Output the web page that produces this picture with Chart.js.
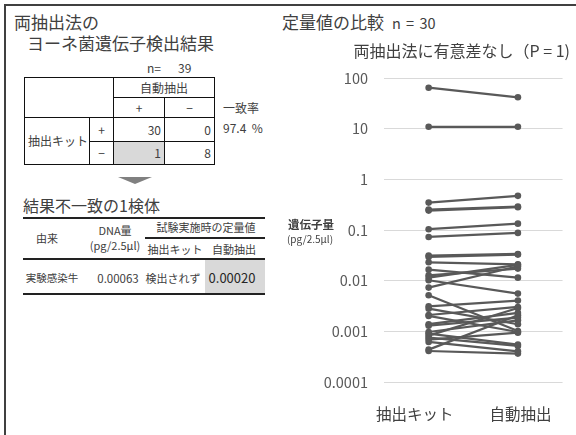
<!DOCTYPE html>
<html lang="ja">
<head>
<meta charset="utf-8">
<title>ヨーネ菌遺伝子検出結果と定量値の比較</title>
<script src="https://cdn.jsdelivr.net/npm/chart.js@4/dist/chart.umd.min.js"></script>
<style>
  html, body { margin: 0; padding: 0; background: #fff; }
  body {
    width: 576px; height: 435px; position: relative; overflow: hidden;
    font-family: "Noto Sans CJK JP", "Noto Sans", sans-serif; color: #404040;
  }
  .t { position: absolute; white-space: nowrap; }
  .ctr { text-align: center; }
  .rule { position: absolute; background: #222; }
  #frameTop { position: absolute; left: 4px; top: 4px; width: 572px; height: 2px; background: #404040; }
  #frameLeft { position: absolute; left: 4px; top: 4px; width: 2px; height: 431px; background: #404040; }
  #t1 {
    position: absolute; left: 24px; top: 77px; width: 190px;
    border-collapse: collapse; table-layout: fixed;
  }
  #t1 td {
    border: 1px solid #111; padding: 0 3px; font-size: 12px; line-height: 14px;
    color: #404040; box-sizing: border-box; white-space: nowrap;
  }
  #t1 td.c { text-align: center; }
  #t1 td.r { text-align: right; }
  #t1 td.hl { background: #d9d9d9; }
  #arrow {
    position: absolute; left: 118px; top: 177px; width: 0; height: 0;
    border-left: 17px solid transparent; border-right: 17px solid transparent;
    border-top: 7px solid #808080;
  }
  #chartBox { position: absolute; left: 280px; top: 0; width: 296px; height: 435px; }
</style>
</head>
<body>
<div id="frameTop"></div>
<div id="frameLeft"></div>

<!-- 検出結果（2×2表） -->
<div class="t" style="left:14px; top:11px; font-size:17px; line-height:22px;">両抽出法の</div>
<div class="t" style="left:27px; top:32px; font-size:17px; line-height:22px;">ヨーネ菌遺伝子検出結果</div>
<div class="t" style="left:147px; top:61px; font-size:12px; line-height:14px;">n=</div>
<div class="t" style="left:178px; top:61px; font-size:12px; line-height:14px;">39</div>

<table id="t1">
  <colgroup><col style="width:65px"><col style="width:24px"><col style="width:51px"><col style="width:50px"></colgroup>
  <tr style="height:20px"><td rowspan="2" colspan="2"></td><td colspan="2" class="c">自動抽出</td></tr>
  <tr style="height:20px"><td class="c">+</td><td class="c">−</td></tr>
  <tr style="height:24px"><td rowspan="2" class="c">抽出キット</td><td class="c">+</td><td class="r">30</td><td class="r">0</td></tr>
  <tr style="height:23px"><td class="c">−</td><td class="r hl">1</td><td class="r">8</td></tr>
</table>
<div class="t" style="left:223px; top:101px; font-size:12px; line-height:14px;">一致率</div>
<div class="t" style="left:223px; top:121px; font-size:12px; line-height:14px;">97.4&nbsp; %</div>

<div id="arrow"></div>

<!-- 結果不一致の検体 -->
<div class="t" style="left:23px; top:195px; font-size:16px; line-height:20px;">結果不一致の1検体</div>
<div class="rule" style="left:23px; top:217px; width:242px; height:2px;"></div>
<div class="rule" style="left:145px; top:237px; width:120px; height:2px;"></div>
<div class="rule" style="left:23px; top:258px; width:242px; height:2px;"></div>
<div style="position:absolute; left:205px; top:260px; width:60px; height:33px; background:#d9d9d9;"></div>
<div class="rule" style="left:23px; top:293px; width:242px; height:2px;"></div>

<div class="t ctr" style="left:7px; width:80px; top:231px; font-size:11px; line-height:14px;">由来</div>
<div class="t ctr" style="left:75px; width:80px; top:223px; font-size:11px; line-height:14px;">DNA量</div>
<div class="t ctr" style="left:75px; width:80px; top:238px; font-size:11px; line-height:14px;">(pg/2.5μl)</div>
<div class="t ctr" style="left:146px; width:120px; top:220px; font-size:11px; line-height:14px;">試験実施時の定量値</div>
<div class="t ctr" style="left:135px; width:80px; top:242px; font-size:11px; line-height:14px;">抽出キット</div>
<div class="t ctr" style="left:194px; width:80px; top:242px; font-size:11px; line-height:14px;">自動抽出</div>
<div class="t ctr" style="left:12px; width:80px; top:271px; font-size:10.5px; line-height:14px;">実験感染牛</div>
<div class="t ctr" style="left:78px; width:80px; top:271px; font-size:11.5px; line-height:14px;">0.00063</div>
<div class="t ctr" style="left:133px; width:80px; top:271px; font-size:11px; line-height:14px;">検出されず</div>
<div class="t ctr" style="left:192px; width:80px; top:270px; font-size:13px; line-height:16px; color:#262626;">0.00020</div>

<!-- 定量値の比較 -->
<div class="t" style="left:282px; top:11px; font-size:17px; line-height:22px;">定量値の比較</div>
<div class="t" style="left:392px; top:14px; font-size:14.5px; line-height:18px; word-spacing:2px;">n = 30</div>

<div id="chartBox"><canvas id="pairChart" width="296" height="435"></canvas></div>

<script>
// 抽出法ごとの定量値 (pg/2.5μl)、同一検体を同じ位置に並べる
const categories = ['抽出キット', '自動抽出'];
const kitValues = [
  65, 11, 0.351, 0.256, 0.244, 0.105, 0.0738, 0.0316, 0.0298, 0.0233,
  0.0167, 0.0129, 0.0116, 0.0103, 0.00738, 0.00521, 0.00316, 0.00284, 0.00213, 0.00204,
  0.00140, 0.00131, 0.000984, 0.000914, 0.000834, 0.000762, 0.000696, 0.000625, 0.000441, 0.000415
];
const autoValues = [
  42, 11, 0.477, 0.293, 0.284, 0.135, 0.0886, 0.0341, 0.0331, 0.0213,
  0.0116, 0.0175, 0.0207, 0.00562, 0.0195, 0.00103, 0.00409, 0.00140, 0.00307, 0.000984,
  0.00234, 0.00189, 0.00167, 0.000554, 0.00293, 0.000521, 0.000955, 0.000409, 0.00210, 0.000368
];
const yTickValues = [0.0001, 0.001, 0.01, 0.1, 1, 10, 100];
const yTickLabels = ['0.0001', '0.001', '0.01', '0.1', '1', '10', '100'];

const FONT = '"Noto Sans CJK JP", "Noto Sans", sans-serif';
const INK = '#595959';

const datasets = kitValues.map((v, i) => ({
  data: [{ x: 1, y: v }, { x: 2, y: autoValues[i] }],
  borderColor: INK,
  borderWidth: 2.2,
  pointRadius: 3.3,
  pointBackgroundColor: INK,
  pointBorderWidth: 0,
  pointHoverRadius: 3.3,
  clip: false
}));

// 縦軸タイトル（0.1 の目盛りの左に横書き）
const axisTitle = {
  id: 'axisTitle',
  afterDraw(chart) {
    const { ctx, scales } = chart;
    const y = scales.y.getPixelForValue(0.1);
    ctx.save();
    ctx.fillStyle = '#404040';
    ctx.textAlign = 'center';
    ctx.textBaseline = 'middle';
    ctx.font = 'bold 11.5px ' + FONT;
    ctx.fillText('遺伝子量', 31, y - 6);
    ctx.font = '10px ' + FONT;
    ctx.fillText('(pg/2.5μl)', 30, y + 9);
    ctx.restore();
  }
};

new Chart(document.getElementById('pairChart'), {
  type: 'line',
  data: { datasets },
  options: {
    responsive: false,
    devicePixelRatio: 1,
    animation: false,
    events: [],
    layout: { padding: { left: 0, right: 6, top: 0, bottom: 0 } },
    plugins: {
      legend: { display: false },
      tooltip: { enabled: false },
      title: {
        display: true,
        text: '両抽出法に有意差なし（P = 1)',
        align: 'end',
        color: '#404040',
        font: { family: FONT, size: 16, weight: 'normal' },
        padding: { top: 41, bottom: 18 }
      }
    },
    scales: {
      x: {
        type: 'linear',
        min: 0.5,
        max: 2.5,
        grid: { display: false, drawTicks: false },
        border: { display: false },
        afterBuildTicks(scale) {
          scale.ticks = [{ value: 0.845 }, { value: 2.03 }];
        },
        afterFit(scale) { scale.height = 52.7; },
        ticks: {
          padding: 23,
          color: '#404040',
          font: { family: FONT, size: 15.5 },
          maxRotation: 0,
          autoSkip: false,
          callback: (value, index) => categories[index]
        }
      },
      y: {
        type: 'logarithmic',
        min: 0.0001,
        max: 100,
        grid: { color: '#d9d9d9', lineWidth: 1, drawTicks: false },
        border: { display: false },
        afterBuildTicks(scale) {
          scale.ticks = yTickValues.map(v => ({ value: v }));
        },
        afterFit(scale) { scale.width = 104; },
        ticks: {
          padding: 16,
          color: INK,
          font: { family: FONT, size: 14.5 },
          callback: value => yTickLabels[yTickValues.indexOf(value)]
        }
      }
    }
  },
  plugins: [axisTitle]
});
</script>
</body>
</html>
